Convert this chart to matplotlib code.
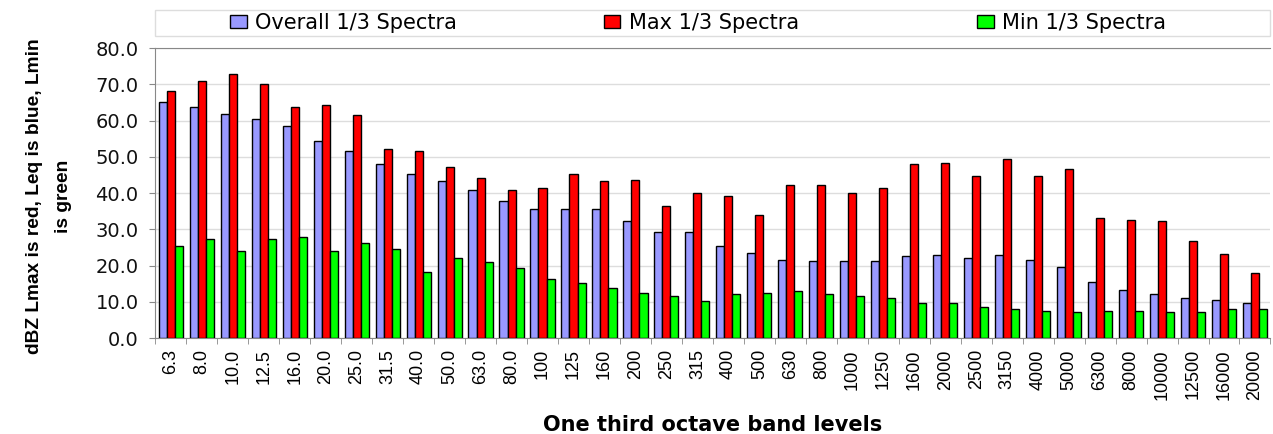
import numpy as np
import matplotlib.pyplot as plt
from matplotlib.patches import Rectangle
from matplotlib.legend import Legend

bands = ['6.3', '8.0', '10.0', '12.5', '16.0', '20.0', '25.0', '31.5', '40.0', '50.0',
         '63.0', '80.0', '100', '125', '160', '200', '250', '315', '400', '500',
         '630', '800', '1000', '1250', '1600', '2000', '2500', '3150', '4000', '5000',
         '6300', '8000', '10000', '12500', '16000', '20000']

overall = [65.2, 63.8, 61.9, 60.4, 58.6, 54.3, 51.5, 48.1, 45.2, 43.3,
           40.9, 37.9, 35.5, 35.5, 35.5, 32.2, 29.3, 29.3, 25.5, 23.5,
           21.6, 21.2, 21.2, 21.2, 22.7, 23.0, 22.1, 23.0, 21.6, 19.7,
           15.4, 13.4, 12.1, 11.1, 10.5, 9.6]
maximum = [68.1, 71.0, 72.9, 70.0, 63.8, 64.2, 61.5, 52.3, 51.7, 47.1,
           44.1, 40.8, 41.3, 45.2, 43.3, 43.7, 36.5, 39.9, 39.3, 34.0,
           42.3, 42.3, 39.9, 41.3, 48.0, 48.4, 44.7, 49.4, 44.7, 46.6,
           33.1, 32.7, 32.2, 26.9, 23.1, 17.9]
minimum = [25.5, 27.3, 24.0, 27.3, 27.8, 23.9, 26.3, 24.5, 18.2, 22.1,
           21.1, 19.3, 16.3, 15.3, 13.9, 12.4, 11.5, 10.3, 12.1, 12.5,
           13.0, 12.1, 11.5, 11.0, 9.6, 9.6, 8.7, 8.1, 7.6, 7.2,
           7.6, 7.6, 7.2, 7.2, 8.1, 8.1]

plt.rcParams['font.family'] = ['DejaVu Sans']
narrow = ['Liberation Sans', 'DejaVu Sans']

fig = plt.figure(figsize=(12.73, 4.34), dpi=100)
ax = fig.add_axes([0.122, 0.221, 0.876, 0.668])

x = np.arange(len(bands))
w = 0.26
ax.bar(x - w, overall, w, color='#9999FF', edgecolor='black', linewidth=1, label='Overall 1/3 Spectra', zorder=3)
ax.bar(x, maximum, w, color='#FF0000', edgecolor='black', linewidth=1, label='Max 1/3 Spectra', zorder=3)
ax.bar(x + w, minimum, w, color='#00FF00', edgecolor='black', linewidth=1, label='Min 1/3 Spectra', zorder=3)

ax.set_xlim(-0.5, len(bands) - 0.5)
ax.set_ylim(0, 80)
yt = np.arange(0, 81, 10)
ax.set_yticks(yt)
ax.set_yticklabels([f'{v:.1f}' for v in yt], fontsize=14, color='#111111')
ax.set_xticks(x)
ax.set_xticklabels(bands, rotation=90, fontsize=13, family=narrow)
ax.tick_params(axis='x', length=0, pad=8)
ax.set_xticks(np.arange(-0.5, len(bands), 1), minor=True)
ax.tick_params(axis='x', which='minor', length=4, color='#888888')
ax.tick_params(axis='y', length=4, color='#888888', pad=8)
ax.yaxis.grid(True, color='#dddddd', linewidth=1, zorder=0)
ax.set_axisbelow(True)
for s in ax.spines.values():
    s.set_color('#888888')
ax.spines['right'].set_visible(False)

ax.set_ylabel('dBZ Lmax is red, Leq is blue, Lmin\nis green', fontsize=13.8, fontweight='bold',
              family=narrow, linespacing=1.9)
ax.yaxis.set_label_coords(-0.075, 0.49)
ax.set_xlabel('One third octave band levels', fontsize=15, fontweight='bold', labelpad=11)

ax.add_patch(Rectangle((0, 1.041), 1, 0.09, transform=ax.transAxes, fill=False,
                       edgecolor='#dddddd', linewidth=1, clip_on=False))
handles, labels = ax.get_legend_handles_labels()
for h, lab, lx in zip(handles, labels, [0.067, 0.402, 0.737]):
    leg = Legend(ax, [h], [lab], loc='center left', bbox_to_anchor=(lx, 1.088), frameon=False,
                 fontsize=15, borderpad=0, borderaxespad=0, handlelength=0.8,
                 handleheight=0.55, handletextpad=0.4)
    ax.add_artist(leg)

plt.savefig('out.png', dpi=100)
